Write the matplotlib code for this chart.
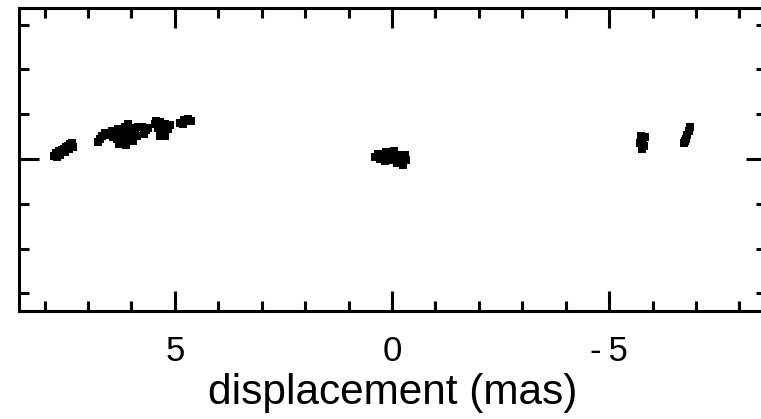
import numpy as np
import matplotlib.pyplot as plt
from matplotlib.ticker import FixedLocator

plt.rcParams['font.family'] = ['Liberation Sans', 'DejaVu Sans']

# component positions (mas)
x_a = [7.79, 7.74, 7.72, 7.67, 7.65, 7.60, 7.56, 7.51, 7.47, 7.42, 7.37, 7.44, 7.35, 7.53]
y_a = [0.07, 0.13, 0.04, 0.18, 0.09, 0.20, 0.22, 0.27, 0.29, 0.33, 0.36, 0.22, 0.27, 0.16]

x_b = [6.77, 6.73, 6.68, 6.61, 6.54, 6.45, 6.43, 6.38, 6.34, 6.31, 6.27, 6.24, 6.22,
       6.18, 6.15, 6.13, 6.11, 6.06, 6.04, 5.99, 5.97, 5.92, 5.88, 5.85, 6.29, 6.08]
y_b = [0.38, 0.45, 0.51, 0.58, 0.54, 0.63, 0.49, 0.58, 0.45, 0.67, 0.54, 0.38, 0.63,
       0.49, 0.71, 0.31, 0.58, 0.45, 0.69, 0.56, 0.40, 0.65, 0.51, 0.71, 0.33, 0.78]

x_c = [5.76, 5.67, 5.71, 5.62]
y_c = [0.71, 0.65, 0.56, 0.69]

x_d = [5.46, 5.35, 5.23, 5.12, 5.39, 5.28, 5.16, 5.30, 5.23, 5.35, 5.44]
y_d = [0.78, 0.83, 0.78, 0.76, 0.69, 0.69, 0.67, 0.58, 0.51, 0.51, 0.85]

x_e = [4.88, 4.79, 4.70, 4.63, 4.82]
y_e = [0.80, 0.87, 0.89, 0.85, 0.78]

x_core = [0.39, 0.32, 0.28, 0.21, 0.16, 0.09, 0.02, 0.0, -0.07, -0.12, -0.16,
          -0.21, -0.25, -0.30, -0.32, -0.05, 0.14]
y_core = [0.04, 0.11, 0.0, 0.07, -0.04, 0.04, 0.11, -0.02, 0.04, -0.09, 0.09,
          -0.02, -0.13, 0.09, -0.02, 0.18, 0.16]

x_f = [-5.74, -5.78, -5.71, -5.81, -5.76, -5.83]
y_f = [0.51, 0.42, 0.36, 0.29, 0.22, 0.49]

x_g = [-6.73, -6.77, -6.80, -6.84, -6.87, -6.75]
y_g = [0.36, 0.45, 0.54, 0.63, 0.71, 0.40]

xticks = [5, 0, -5]
xtick_labels = ['5', '0', '-\u20095']

fig = plt.figure(figsize=(7.61, 4.19), dpi=100)
ax = fig.add_axes([0.025, 0.258, 0.982, 0.723])

for xs, ys in [(x_a, y_a), (x_b, y_b), (x_c, y_c), (x_d, y_d), (x_e, y_e),
               (x_core, y_core), (x_f, y_f), (x_g, y_g)]:
    ax.plot(xs, ys, 's', color='black', markersize=6, markeredgewidth=0)

ax.set_xlim(8.59, -8.62)
ax.set_ylim(-3.39, 3.37)

ax.xaxis.set_major_locator(FixedLocator(xticks))
ax.set_xticklabels(xtick_labels)
ax.xaxis.set_minor_locator(FixedLocator([v for v in range(-8, 9) if v % 5 != 0]))
ax.yaxis.set_major_locator(FixedLocator([0]))
ax.yaxis.set_minor_locator(FixedLocator([-3, -2, -1, 1, 2, 3]))
ax.set_yticklabels([])

ax.tick_params(which='both', direction='in', top=True, right=True, width=2.2, color='black')
ax.tick_params(which='major', length=14.5, labelsize=25, pad=17)
ax.tick_params(which='minor', length=7.5)
for s in ax.spines.values():
    s.set_linewidth(2.2)

ax.set_xlabel('displacement (mas)', fontsize=30.5, labelpad=4)

fig.savefig('out.png', dpi=100)
